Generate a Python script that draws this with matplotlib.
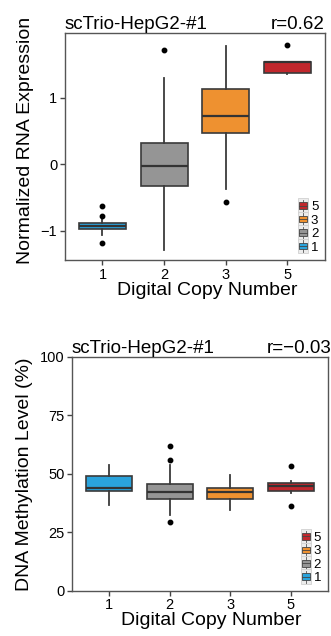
import matplotlib
matplotlib.use("Agg")
import matplotlib.pyplot as plt
from matplotlib.patches import Patch, Rectangle
from matplotlib.lines import Line2D
from matplotlib.legend_handler import HandlerBase

plt.rcParams['font.family'] = ['Liberation Sans', 'DejaVu Sans']

copy_numbers = ['1', '2', '3', '5']
colors = ['#2aa3dc', '#959595', '#ee9130', '#c1272d']

# normalized RNA expression, box stats per copy number
rna_q1 = [-0.98, -0.33, 0.47, 1.37]
rna_med = [-0.93, -0.02, 0.72, 1.535]
rna_q3 = [-0.88, 0.32, 1.13, 1.54]
rna_lo = [-1.07, -1.29, -0.37, 1.35]
rna_hi = [-0.82, 1.30, 1.77, 1.54]
rna_fliers = [[-0.63, -0.77, -1.18], [1.72], [-0.57], [1.79]]

# DNA methylation level (%)
meth_q1 = [42.7, 39.2, 39.3, 42.7]
meth_med = [44.1, 42.2, 42.2, 44.6]
meth_q3 = [49.1, 45.6, 44.1, 46.0]
meth_lo = [36.8, 32.5, 34.6, 42.0]
meth_hi = [53.8, 53.8, 49.6, 47.1]
meth_fliers = [[], [56.0, 61.7, 29.6], [], [53.4, 36.3]]


class MiniBox(HandlerBase):
    def create_artists(self, legend, orig_handle, xdescent, ydescent,
                       width, height, fontsize, trans):
        x0, y0 = -xdescent, -ydescent
        bg = Rectangle((x0, y0 - 1), width, height + 2, fc='#ececec',
                       ec='#d0d0d0', lw=0.6, transform=trans)
        bw, bh = width * 0.8, height * 0.55
        bx = x0 + (width - bw) / 2
        by = y0 + (height - bh) / 2
        cx = x0 + width / 2
        w1 = Line2D([cx, cx], [y0, by], color='#555555', lw=0.6, transform=trans)
        w2 = Line2D([cx, cx], [by + bh, y0 + height], color='#555555', lw=0.6,
                    transform=trans)
        box = Rectangle((bx, by), bw, bh, fc=orig_handle.get_facecolor(),
                        ec='#444444', lw=0.6, transform=trans)
        med = Line2D([bx, bx + bw], [by + bh / 2] * 2, color='#444444', lw=0.6,
                     transform=trans)
        return [bg, w1, w2, box, med]


def stats(q1, med, q3, lo, hi, fl):
    return [dict(q1=q1[i], med=med[i], q3=q3[i], whislo=lo[i], whishi=hi[i],
                 fliers=fl[i], label=copy_numbers[i]) for i in range(len(q1))]


def draw(ax, st, ylab):
    bp = ax.bxp(st, positions=range(1, len(st) + 1), widths=0.76,
                patch_artist=True, showcaps=False,
                boxprops=dict(edgecolor='#3a3a3a', linewidth=1.2),
                medianprops=dict(color='#333333', linewidth=1.6),
                whiskerprops=dict(color='#3a3a3a', linewidth=1.3),
                flierprops=dict(marker='o', markerfacecolor='black',
                                markeredgecolor='black', markersize=3.2))
    for patch, c in zip(bp['boxes'], colors):
        patch.set_facecolor(c)
    ax.set_xlim(0.39, 4.61)
    ax.set_xticks(range(1, 5))
    ax.set_xticklabels(copy_numbers)
    ax.tick_params(labelsize=10.5, length=3.5, width=1, color='#444444', pad=2)
    for s in ax.spines.values():
        s.set_color('#555555')
        s.set_linewidth(1.0)
    ax.set_xlabel('Digital Copy Number', fontsize=14, labelpad=0)
    ax.xaxis.label.set_x(0.546)
    ax.set_ylabel(ylab, fontsize=14, labelpad=5)
    handles = [Patch(facecolor=c) for c in colors][::-1]
    ax.legend(handles, copy_numbers[::-1], loc='lower right', fontsize=9.5,
              handler_map={Patch: MiniBox()}, frameon=False,
              handlelength=0.8, handleheight=1.0, labelspacing=0.0,
              handletextpad=0.2, borderaxespad=0.3, borderpad=0.2)


fig = plt.figure(figsize=(3.31, 6.36), dpi=100)

ax1 = fig.add_axes([0.196, 0.591, 0.786, 0.357])
draw(ax1, stats(rna_q1, rna_med, rna_q3, rna_lo, rna_hi, rna_fliers),
     'Normalized RNA Expression')
ax1.set_ylim(-1.44, 1.97)
ax1.set_yticks([-1, 0, 1])
ax1.yaxis.label.set_y(0.528)
ax1.set_title('scTrio-HepG2-#1', loc='left', fontsize=13.5, pad=3)
ax1.set_title('r=0.62', loc='right', fontsize=13.5, pad=3)

ax2 = fig.add_axes([0.2175, 0.071, 0.773, 0.368])
draw(ax2, stats(meth_q1, meth_med, meth_q3, meth_lo, meth_hi, meth_fliers),
     'DNA Methylation Level (%)')
ax2.set_ylim(0, 100)
ax2.set_yticks([0, 25, 50, 75, 100])
ax2.set_title('scTrio-HepG2-#1', loc='left', fontsize=13.5, pad=3)
ax2.annotate('r=\u22120.03', xy=(0.762, 1.0), xycoords='axes fraction',
             xytext=(0, 3), textcoords='offset points', ha='left',
             va='baseline', fontsize=13.5, annotation_clip=False)

fig.savefig('out.png', dpi=100)
